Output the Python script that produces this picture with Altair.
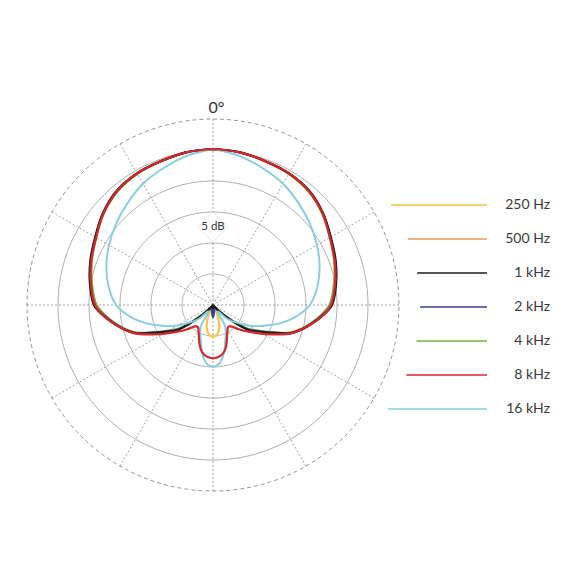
import math
import altair as alt
import pandas as pd

# ---------------- data ----------------
# Polar response, angle measured clockwise from 0° (front).  The pattern is
# symmetric, so one half (0..180°) is listed and mirrored for 180..360°.
# Levels are in plot units: the outer (dashed) ring is 186, rings every 31.
HALF_ANGLES = [0, 10, 20, 30, 40, 50, 60, 70, 80, 90, 95, 100, 105, 110, 115,
               120, 125, 130, 135, 140, 145, 150, 155, 160, 165, 170, 175, 180]

SERIES = ["250 Hz", "500 Hz", "1 kHz", "2 kHz", "4 kHz", "8 kHz", "16 kHz"]
COLORS = ["#f5c63f", "#f0955a", "#1e1e1e", "#3a3f98", "#76b043", "#d8262c", "#86cce2"]

LEVEL_250 = [156, 155, 153, 151.5, 148.5, 142.5, 135, 129, 123, 117, 109.5, 101, 92, 81.5,
             65, 52, 42, 24, 10, 4, 2, 4, 9, 17, 24, 28.5, 31, 31.7]
LEVEL_500 = [156, 155, 153, 152, 149, 143, 135.5, 130, 124, 118, 110.5, 101.5, 92.5, 82,
             65.5, 52.5, 43, 24, 10, 4, 2, 1, 1, 1.5, 2, 3, 3.5, 4]
LEVEL_1K = [156, 155, 153, 152, 149.5, 143.5, 136, 130.5, 125, 119, 111, 102, 93, 82.5,
            66, 53, 44, 24, 10, 3, 1, 0.5, 0.5, 1, 1.5, 2, 2.5, 3]
LEVEL_2K = [156, 155, 153, 152, 149, 143, 135.5, 130, 124.5, 118.5, 110.5, 101.5, 92.5, 82,
            65.5, 52.5, 43, 24, 10, 3, 1, 1, 1.5, 2, 4, 6, 9, 12]
LEVEL_4K = [156, 155, 153, 151.5, 148.5, 142.5, 135, 129, 123, 116.5, 109, 100.5, 91.5, 81,
            64, 51, 40, 22, 9, 3, 1, 1, 2, 3, 5, 6.5, 7.5, 8]
LEVEL_8K = [156, 155, 153, 152, 149, 143, 135, 129.5, 124, 118, 111, 102, 93, 83,
            69.5, 58, 47.5, 40, 33, 28, 26.5, 29, 33.5, 40, 46.5, 50.5, 52.5, 53.3]
LEVEL_16K = [156, 151.5, 145.5, 140, 133, 126.5, 120, 113.5, 106, 97, 89, 80, 70, 59,
             50, 41, 32, 25, 18, 9, 8, 24, 30, 36, 45, 54, 60, 61.7]

LEVELS = [LEVEL_250, LEVEL_500, LEVEL_1K, LEVEL_2K, LEVEL_4K, LEVEL_8K, LEVEL_16K]

RING_LEVELS = [31, 62, 93, 124, 155]
OUTER_LEVEL = 186
SPOKE_ANGLES = list(range(0, 360, 30))
DRAW_ORDER = ["250 Hz", "500 Hz", "4 kHz", "2 kHz", "1 kHz", "16 kHz", "8 kHz"]

# ---------------- tables ----------------
rows = []
for name, vals in zip(SERIES, LEVELS):
    angles = HALF_ANGLES + [360 - a for a in reversed(HALF_ANGLES[:-1])]
    levels = vals + list(reversed(vals[:-1]))
    for a, v in zip(angles, levels):
        rows.append({"series": name, "deg": a, "level": v})
curves = pd.DataFrame(rows)

ring_rows = []
for lv in RING_LEVELS + [OUTER_LEVEL]:
    for a in range(0, 361, 2):
        ring_rows.append({"ring": lv, "deg": a, "level": lv,
                          "outer": lv == OUTER_LEVEL})
rings = pd.DataFrame(ring_rows)

spokes = pd.DataFrame({"deg": SPOKE_ANGLES, "level": OUTER_LEVEL})
legend_df = pd.DataFrame({"series": SERIES, "i": list(range(len(SERIES)))})

# ---------------- scales ----------------
XS = alt.Scale(domain=[-205, 359], nice=False, zero=False)
YS = alt.Scale(domain=[-267, 297], nice=False, zero=False)
CS = alt.Scale(domain=SERIES, range=COLORS)

polar = dict(px="datum.level * sin(datum.deg * PI / 180)",
             py="datum.level * cos(datum.deg * PI / 180)")

def X(f):
    return alt.X(f, type="quantitative", scale=XS, axis=None)

def Y(f):
    return alt.Y(f, type="quantitative", scale=YS, axis=None)

layers = []

# rings
ring_base = alt.Chart(rings).transform_calculate(**polar)
layers.append(
    ring_base.transform_filter("!datum.outer")
    .mark_line(color="#9a9a9a", strokeWidth=0.8)
    .encode(x=X("px"), y=Y("py"), detail="ring:N", order="deg:Q")
)
layers.append(
    ring_base.transform_filter("datum.outer")
    .mark_line(color="#8a8a8a", strokeWidth=0.9, strokeDash=[4, 3])
    .encode(x=X("px"), y=Y("py"), detail="ring:N", order="deg:Q")
)

# spokes
layers.append(
    alt.Chart(spokes)
    .transform_calculate(**polar, zx="0", zy="0")
    .mark_rule(color="#8c8c8c", strokeWidth=0.8, strokeDash=[2, 2])
    .encode(x=X("zx"), y=Y("zy"), x2="px:Q", y2="py:Q")
)

# "5 dB" label with white diamond
lab5 = pd.DataFrame({"deg": [0], "level": [78], "t": ["5 dB"]})
layers.append(
    alt.Chart(lab5).transform_calculate(**polar)
    .mark_point(shape="diamond", size=900, filled=True, fill="white",
                stroke="#e4e4e4", strokeWidth=0.8, opacity=1)
    .encode(x=X("px"), y=Y("py"))
)
layers.append(
    alt.Chart(lab5).transform_calculate(**polar)
    .mark_text(font="Lato", fontSize=11.5, color="#333333", baseline="middle", align="center")
    .encode(x=X("px"), y=Y("py"), text="t:N")
)

# "0°" label
lab0 = pd.DataFrame({"deg": [0], "level": [197.5], "t": ["0°"]})
layers.append(
    alt.Chart(lab0).transform_calculate(**polar)
    .mark_text(font="Lato", fontSize=16, color="#333333",
               baseline="middle", align="left", dx=-4.5)
    .encode(x=X("px"), y=Y("py"), text="t:N")
)

# curves
for name in DRAW_ORDER:
    sw = 1.9 if name == "16 kHz" else 2.2
    layers.append(
        alt.Chart(curves).transform_filter(alt.datum.series == name)
        .transform_calculate(**polar)
        .mark_line(strokeWidth=sw, strokeJoin="round", interpolate="catmull-rom")
        .encode(x=X("px"), y=Y("py"), order="deg:Q",
                color=alt.Color("series:N", scale=CS, legend=None))
    )

# custom legend
leg = (alt.Chart(legend_df)
       .transform_calculate(ly="100 - 34 * datum.i")
       .transform_calculate(lx1="sqrt(186 * 186 - datum.ly * datum.ly) + 21",
                            lx2="274", tx="337"))
layers.append(
    leg.mark_rule(strokeWidth=1.5)
    .encode(x=X("lx1"), x2="lx2:Q", y=Y("ly"),
            color=alt.Color("series:N", scale=CS, legend=None))
)
layers.append(
    leg.mark_text(font="Lato", fontSize=14, color="#3a3a3a",
                  align="right", baseline="middle")
    .encode(x=X("tx"), y=Y("ly"), text="series:N")
)

chart = (alt.layer(*layers)
         .properties(width=564, height=564, padding=0,
                     autosize=alt.AutoSizeParams(type="none"),
                     background="white")
         .configure_view(stroke=None))

chart.save("out.html", embed_options={"renderer": "svg", "actions": False})
